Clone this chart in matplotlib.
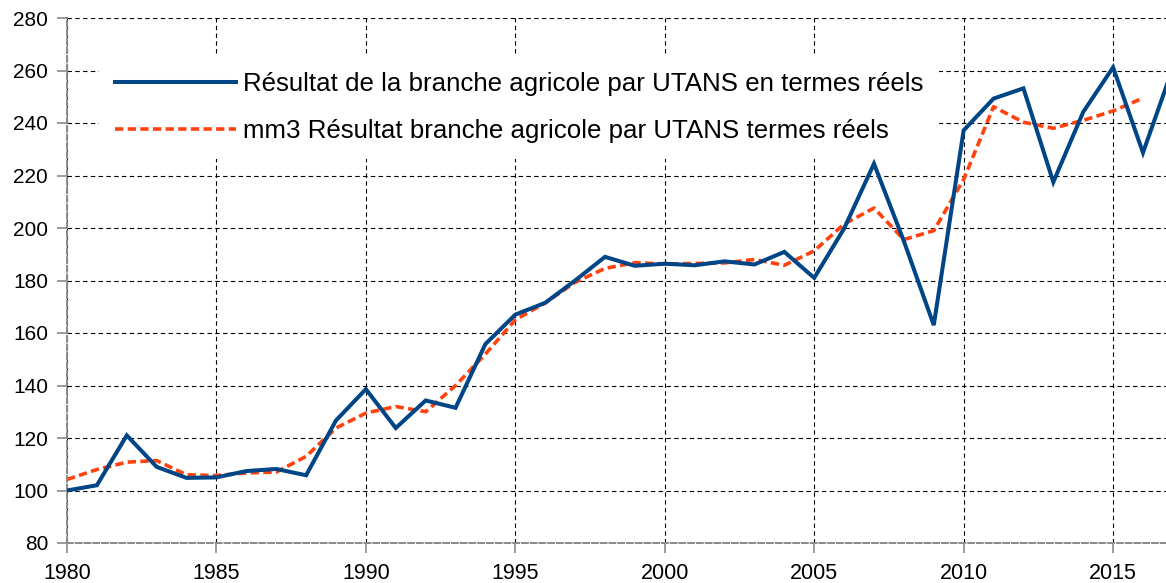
import matplotlib.pyplot as plt
import numpy as np

plt.rcParams['font.family'] = ['Liberation Sans', 'DejaVu Sans']

# Années et valeurs
years = list(range(1980, 2018))
resultat = [100, 102, 121, 109, 104.8, 105, 107.4, 108.2, 105.8, 126.7,
            138.6, 123.8, 134.3, 131.5, 155.8, 167, 171.5, 180, 189, 185.6,
            186.4, 185.8, 187.3, 186.1, 190.9, 181, 199.8, 224.5, 195, 163,
            237.2, 249.3, 253.2, 217.5, 244.2, 261.2, 228.7, 261]
mm3_years = list(range(1980, 2017))
mm3 = [104.2, 108, 110.8, 111.4, 106, 105.7, 106.7, 107, 113, 123.8,
       129.5, 132, 130, 140, 152, 165, 171.5, 179.3, 184.6, 186.8,
       186.3, 186.5, 186.7, 188, 185.8, 191.3, 201.5, 207.6, 195.6, 199,
       218.5, 246.2, 240.3, 238, 241, 244.6, 249.5]

label_res = "Résultat de la branche agricole par UTANS en termes réels"
label_mm3 = "mm3 Résultat branche agricole par UTANS termes réels"

fig = plt.figure(figsize=(11.66, 5.83), dpi=100)
ax = fig.add_axes([67 / 1166, 40 / 583, 1 - 67 / 1166, 525 / 583])

ax.plot(years, resultat, color='#004586', linewidth=2.9, label=label_res,
        solid_joinstyle='miter', zorder=3)
ax.plot(mm3_years, mm3, color='#ff420e', linewidth=2.6, linestyle=(0, (2.3, 1.2)),
        label=label_mm3, zorder=2)

ax.set_xlim(1980, 2016.77)
ax.set_ylim(80, 280)
ax.set_xticks(range(1980, 2016, 5))
ax.set_yticks(range(80, 281, 20))

ax.grid(True, color='black', linestyle=(0, (4, 3)), linewidth=0.8)
ax.set_axisbelow(True)
for s in ['top', 'right']:
    ax.spines[s].set_visible(False)
for s in ['left', 'bottom']:
    ax.spines[s].set_color('#8a8a8a')
    ax.spines[s].set_linewidth(1.4)
    ax.spines[s].set_linestyle((0, (3, 1.5)))
ax.tick_params(direction='out', length=7.5, width=1.2, color='#8a8a8a',
               labelsize=15.5)
ax.tick_params(axis='x', pad=7)
ax.tick_params(axis='y', pad=6, labelsize=15)

leg = ax.legend(loc='upper left', bbox_to_anchor=(99 / 1166, 1 - 56 / 583),
                bbox_transform=fig.transFigure, fontsize=18.6, handlelength=4.68,
                handletextpad=0.27, borderpad=0.62, labelspacing=0.9,
                borderaxespad=0, fancybox=False, framealpha=1)
leg.get_frame().set_edgecolor('white')
leg.get_frame().set_linewidth(0)

fig.savefig('out.png', dpi=100)
